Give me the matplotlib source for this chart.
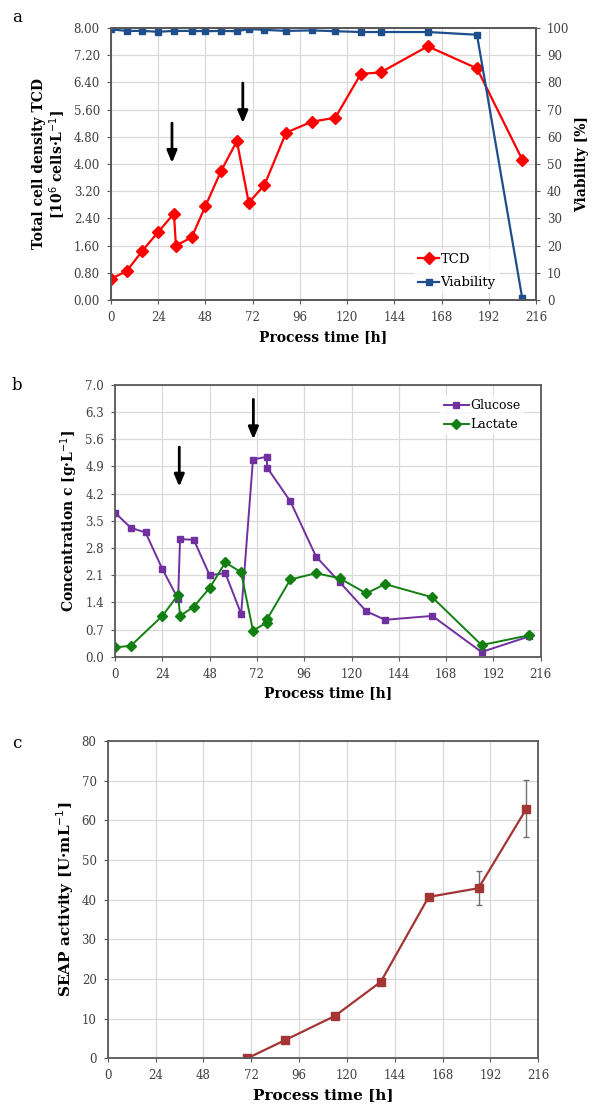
import numpy as np
import matplotlib
matplotlib.use("Agg")
import matplotlib.pyplot as plt
from matplotlib.ticker import FormatStrFormatter

# panel a: cell density and viability
tcd_time = [0, 8, 16, 24, 32, 33, 41, 48, 56, 64, 70, 78, 89, 102, 114, 127, 137, 161, 186, 209]
tcd = [0.62, 0.85, 1.45, 2.0, 2.54, 1.6, 1.84, 2.76, 3.8, 4.67, 2.86, 3.38, 4.92,
       5.24, 5.36, 6.65, 6.69, 7.46, 6.81, 4.13]
via_time = [0, 8, 16, 24, 32, 41, 48, 56, 64, 70, 78, 89, 102, 114, 127, 137, 161, 186, 209]
viability = [99.5, 98.9, 98.9, 98.6, 98.9, 98.9, 98.8, 98.9, 98.8, 99.6, 99.3, 98.9,
             99.1, 98.8, 98.5, 98.5, 98.5, 97.5, 0.7]

# panel b: glucose and lactate
met_time = [0, 8, 15.5, 24, 32, 33, 40, 48, 56, 64, 70, 77, 77.2, 89, 102, 114, 127.5, 137, 161, 186, 210]
glucose = [3.71, 3.32, 3.2, 2.26, 1.49, 3.03, 3.01, 2.1, 2.15, 1.1, 5.08, 5.15, 4.87,
           4.0, 2.58, 1.92, 1.17, 0.95, 1.05, 0.12, 0.52]
lactate = [0.24, 0.28, None, 1.05, 1.59, 1.05, 1.29, 1.77, 2.43, 2.17, 0.67, 0.88, 0.97,
           1.99, 2.15, 2.02, 1.63, 1.87, 1.53, 0.3, 0.55]

# panel c: SEAP activity
seap_time = [70, 89, 114, 137, 161, 186, 210]
seap = [0.0, 4.6, 10.7, 19.3, 40.7, 42.9, 62.9]
seap_err = [0.0, 0.0, 0.3, 0.6, 0.5, 4.3, 7.2]

# feed arrows (x, y start, y end)
arrows_a = [(31, 5.2, 4.03), (67, 6.38, 5.2)]
arrows_b = [(32.6, 5.4, 4.38), (70.2, 6.63, 5.6)]

serif = "DejaVu Serif"
plt.rcParams['font.family'] = serif
tick_col = "#404040"
grid_col = "#d9d9d9"
spine_col = "#595959"
lab_size = 10
tick_size = 8.5

fig = plt.figure(figsize=(5.96, 11.13), dpi=100)


def style(ax, xlab_size=lab_size):
    ax.set_xlim(0, 216)
    ax.set_xticks(np.arange(0, 217, 24))
    ax.grid(True, color=grid_col, lw=0.9)
    ax.set_axisbelow(True)
    for s in ax.spines.values():
        s.set_color(spine_col)
        s.set_linewidth(1.3)
    ax.tick_params(labelsize=tick_size, colors=tick_col, length=3, color=spine_col, pad=5)
    ax.set_xlabel("Process time [h]", fontsize=xlab_size, fontweight='bold', labelpad=4)


def draw_arrows(ax, arrows):
    for x, y0, y1 in arrows:
        ax.annotate("", xy=(x, y1), xytext=(x, y0),
                    arrowprops=dict(arrowstyle='-|>,head_length=0.6,head_width=0.25',
                                    color='black', lw=2, mutation_scale=12,
                                    shrinkA=0, shrinkB=0))


# ---- a ----
ax = fig.add_axes([0.1862, 0.7305, 0.7131, 0.2444])
style(ax)
ax.set_ylim(0, 8)
ax.set_yticks(np.arange(0, 8.01, 0.8))
ax.yaxis.set_major_formatter(FormatStrFormatter('%.2f'))
ax.set_ylabel("Total cell density TCD\n[10$^6$ cells·L$^{-1}$]", fontsize=lab_size,
              fontweight='bold', linespacing=1.1)
l1, = ax.plot(tcd_time, tcd, color='#ff0000', marker='D', ms=6, lw=1.6, label='TCD')
draw_arrows(ax, arrows_a)
ax2 = ax.twinx()
ax2.set_ylim(0, 100)
ax2.set_yticks(np.arange(0, 101, 10))
for s in ax2.spines.values():
    s.set_color(spine_col)
    s.set_linewidth(1.3)
ax2.tick_params(labelsize=tick_size, colors=tick_col, length=3, color=spine_col, pad=5)
ax2.set_ylabel("Viability [%]", fontsize=lab_size, fontweight='bold')
l2, = ax2.plot(via_time, viability, color='#1f4e8c', marker='s', ms=5, lw=1.6, label='Viability')
leg = ax2.legend(handles=[l1, l2], loc='lower right', bbox_to_anchor=(0.93, 0.0),
                 fontsize=9.5, frameon=True, fancybox=False, edgecolor='none',
                 handlelength=1.6, handletextpad=0.1, borderpad=0.3, labelspacing=0.8)
fig.text(0.02, 0.992, "a", fontsize=12, va='top')

# ---- b ----
bx = fig.add_axes([0.193, 0.41, 0.7142, 0.2441])
style(bx)
bx.set_ylim(0, 7)
bx.set_yticks(np.arange(0, 7.01, 0.7))
bx.yaxis.set_major_formatter(FormatStrFormatter('%.1f'))
bx.set_ylabel("Concentration c [g·L$^{-1}$]", fontsize=lab_size, fontweight='bold')
bx.plot(met_time, glucose, color='#7030a0', marker='s', ms=4.5, lw=1.4, label='Glucose')
lt = [t for t, v in zip(met_time, lactate) if v is not None]
lv = [v for v in lactate if v is not None]
bx.plot(lt, lv, color='#118011', marker='D', ms=5.5, lw=1.4, label='Lactate')
draw_arrows(bx, arrows_b)
bx.legend(loc='upper right', bbox_to_anchor=(0.975, 0.985), fontsize=9,
          frameon=True, fancybox=False, edgecolor='none',
          handlelength=2.0, handletextpad=0.1, borderpad=0.3, labelspacing=0.5)
fig.text(0.02, 0.661, "b", fontsize=12, va='top')

# ---- c ----
cx = fig.add_axes([0.1807, 0.0491, 0.7225, 0.2851])
style(cx, xlab_size=11)
cx.set_ylim(0, 80)
cx.set_yticks(np.arange(0, 81, 10))
cx.set_ylabel("SEAP activity [U·mL$^{-1}$]", fontsize=lab_size + 1, fontweight='bold')
cx.errorbar(seap_time, seap, yerr=seap_err, color='#a33535', marker='s', ms=6, lw=1.6,
            ecolor='#707070', elinewidth=1, capsize=2.5)
fig.text(0.02, 0.340, "c", fontsize=12, va='top')

fig.savefig("out.png", dpi=100)
